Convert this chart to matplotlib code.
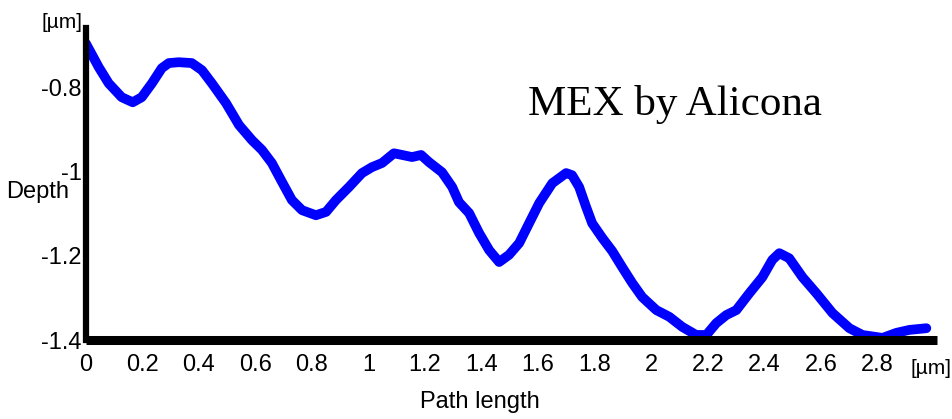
import matplotlib
matplotlib.use("Agg")
import matplotlib.pyplot as plt

# profile (path length in um, depth in um)
path = [0.0, 0.046, 0.081, 0.127, 0.166, 0.198, 0.234, 0.269, 0.294, 0.329,
        0.375, 0.411, 0.446, 0.496, 0.542, 0.588, 0.623, 0.658, 0.694, 0.729,
        0.765, 0.814, 0.850, 0.885, 0.931, 0.977, 1.012, 1.048, 1.090, 1.119,
        1.154, 1.186, 1.214, 1.260, 1.296, 1.320, 1.356, 1.391, 1.427, 1.462,
        1.497, 1.533, 1.568, 1.604, 1.650, 1.699, 1.720, 1.745, 1.770, 1.791,
        1.827, 1.862, 1.897, 1.933, 1.968, 2.018, 2.064, 2.110, 2.159, 2.195,
        2.230, 2.265, 2.301, 2.347, 2.393, 2.428, 2.453, 2.488, 2.535, 2.584,
        2.641, 2.701, 2.747, 2.818, 2.867, 2.913, 2.973]
depth = [-0.696, -0.753, -0.791, -0.824, -0.836, -0.824, -0.791, -0.755, -0.743, -0.741,
         -0.743, -0.760, -0.791, -0.838, -0.890, -0.926, -0.949, -0.980, -1.025, -1.068,
         -1.092, -1.104, -1.096, -1.068, -1.037, -1.004, -0.990, -0.980, -0.957, -0.961,
         -0.966, -0.961, -0.978, -1.002, -1.037, -1.073, -1.099, -1.146, -1.187, -1.215,
         -1.198, -1.170, -1.123, -1.075, -1.028, -1.004, -1.009, -1.037, -1.085, -1.123,
         -1.158, -1.189, -1.227, -1.265, -1.298, -1.329, -1.345, -1.369, -1.388, -1.388,
         -1.360, -1.341, -1.329, -1.289, -1.251, -1.210, -1.194, -1.206, -1.251, -1.289,
         -1.336, -1.372, -1.388, -1.395, -1.383, -1.376, -1.372]

xticks = [0, 0.2, 0.4, 0.6, 0.8, 1, 1.2, 1.4, 1.6, 1.8, 2, 2.2, 2.4, 2.6, 2.8]
xlabels = ["0", "0.2", "0.4", "0.6", "0.8", "1", "1.2", "1.4", "1.6", "1.8",
           "2", "2.2", "2.4", "2.6", "2.8"]
yticks = [-1.4, -1.2, -1, -0.8]
ylabels = ["-1.4", "-1.2", "-1", "-0.8"]

plt.rcParams['font.family'] = ["Liberation Sans", "DejaVu Sans"]

fig = plt.figure(figsize=(9.53, 4.19), dpi=100)
ax = fig.add_axes([0.090, 0.1885, 0.893, 0.7445])

ax.plot(path, depth, color="#0000ff", lw=7, solid_capstyle="round",
        solid_joinstyle="round")

ax.set_xlim(0, 3.01)
ax.set_ylim(-1.4, -0.66)
ax.set_xticks(xticks)
ax.set_xticklabels(xlabels)
ax.set_yticks(yticks)
ax.set_yticklabels(ylabels)
ax.tick_params(axis="x", length=0, pad=10, labelsize=17)
ax.tick_params(axis="y", length=0, pad=3, labelsize=17)

for s in ["top", "right"]:
    ax.spines[s].set_visible(False)
ax.spines["left"].set_linewidth(4.5)
ax.spines["bottom"].set_linewidth(6.5)
ax.spines["left"].set_capstyle("projecting")
ax.spines["bottom"].set_capstyle("butt")

ax.set_ylabel("Depth", rotation=0, ha="right", va="center", fontsize=17)
ax.yaxis.set_label_coords(-0.02, 0.475)
ax.set_xlabel("Path length", fontsize=17, va="center")
ax.xaxis.set_label_coords(0.463, -0.20)

fig.text(62 / 953, 1 - 23 / 419, "[\u00b5m]", ha="center", va="center", fontsize=15)
fig.text(952 / 953, 1 - 368 / 419, "[\u00b5m]", ha="right", va="center", fontsize=15)

fig.text(675 / 953, 1 - 115 / 419, "MEX by Alicona", ha="center", va="baseline",
         fontsize=31, family=["Liberation Serif", "DejaVu Serif"])

fig.savefig("out.png", dpi=100)
